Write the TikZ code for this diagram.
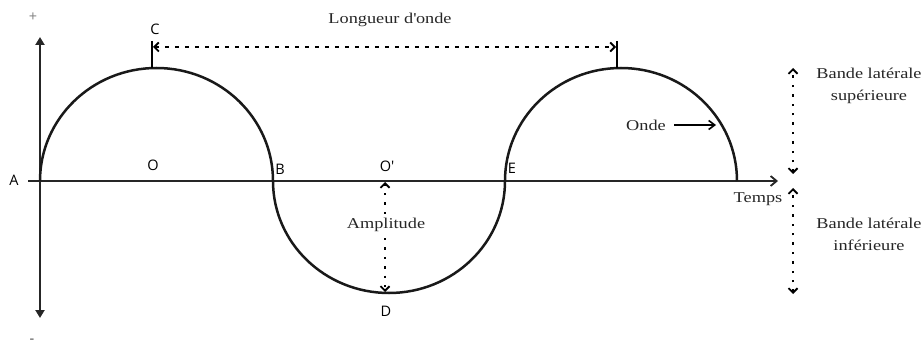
\documentclass[tikz,border=0pt]{standalone}
\usepackage{fontspec}
\setmainfont{Liberation Serif}[FakeStretch=1.22]
\newfontfamily\lblfont{Open Sans}
\usetikzlibrary{arrows.meta}
\begin{document}
\begin{tikzpicture}[x=1pt,y=-1pt,
  wave/.style={line width=2.5pt, black!90},
  axis/.style={line width=2pt, black!85},
  pt/.style={font=\lblfont\fontsize{14.5}{15}\selectfont, inner sep=0pt},
  serif/.style={font=\fontsize{15}{22}\selectfont, inner sep=0pt, align=center, text=black!85},
  dotline/.style={line width=2.6pt, dash pattern=on 2.4pt off 7pt},
  dashline/.style={line width=2.2pt, dash pattern=on 4pt off 6pt},
  chev/.tip={Straight Barb[length=4.5pt,width=9pt,line width=1.8pt]},
]
\useasboundingbox (0,0) rectangle (922,350);
% axes
\coordinate (ytop) at (40,37);
\coordinate (ybot) at (40,318);
\coordinate (xl) at (28,181);
\coordinate (xr) at (778,181);
\draw[axis,{Triangle[length=8pt,width=9pt]}-{Triangle[length=8pt,width=9pt]}] (ybot) -- (ytop);
\draw[axis,-{Straight Barb[length=6pt,width=10pt,line width=1.8pt]}] (xl) -- (xr);
\node[pt, text=black!50] (plus) at (33,17) {+};
\node[pt, text=black!70] (minus) at (32,341) {-};
% wave
\coordinate (A) at (40,181);
\draw[wave] (A) arc[start angle=180, end angle=0, x radius=116.5pt, y radius=113pt]
  coordinate (Bp)
  arc[start angle=180, end angle=360, x radius=116pt, y radius=112pt]
  coordinate (Ep)
  arc[start angle=180, end angle=0, x radius=116pt, y radius=113pt]
  coordinate (Gp);
% point labels
\node[pt] (lA) at (14,180) {A};
\node[pt] (lO) at (153,165) {O};
\node[pt] (lB) at (280,169) {B};
\node[pt] (lO2) at (387,166) {O'};
\node[pt] (lE) at (512,168) {E};
\node[pt] (lD) at (386,311) {D};
\node[pt] (lC) at (155,29) {C};
% wavelength
\coordinate (c1) at (152,41); \coordinate (c2) at (152,68);
\coordinate (g1) at (617,41); \coordinate (g2) at (617,68);
\draw[line width=2pt] (c1) -- (c2);
\draw[line width=2pt] (g1) -- (g2);
\coordinate (w1) at (153,47); \coordinate (w2) at (616,47);
\draw[dashline,chev-chev] (w1) -- (w2);
\node[serif] (lw) at (390,20) {Longueur d\textquotesingle onde};
% amplitude
\node[serif] (amp) at (386,225) {Amplitude};
\coordinate (a1) at (385,182); \coordinate (a2) at (385,292);
\draw[dotline,-chev] (amp.north -| a1) ++(0,-4) -- (a1);
\draw[dotline,-chev] (amp.south -| a2) ++(0,6) -- (a2);
% onde
\node[serif] (onde) at (646,125) {Onde};
\coordinate (ot) at (716,125);
\draw[line width=1.6pt,-{Straight Barb[length=6pt,width=9pt,line width=1.6pt]}] (onde.east) ++(8,0) -- (ot);
% temps
\node[serif] (temps) at (758,199) {Temps};
% side bands
\coordinate (s1) at (793,68); \coordinate (s2) at (793,174);
\coordinate (s3) at (793,188); \coordinate (s4) at (793,294);
\draw[dotline,chev-chev] (s2) -- (s1);
\draw[dotline,chev-chev] (s4) -- (s3);
\node[serif] (sup) at (869,86) {Bande latérale\\supérieure};
\node[serif] (inf) at (869,234) {Bande latérale\\inférieure};
\end{tikzpicture}
\end{document}
